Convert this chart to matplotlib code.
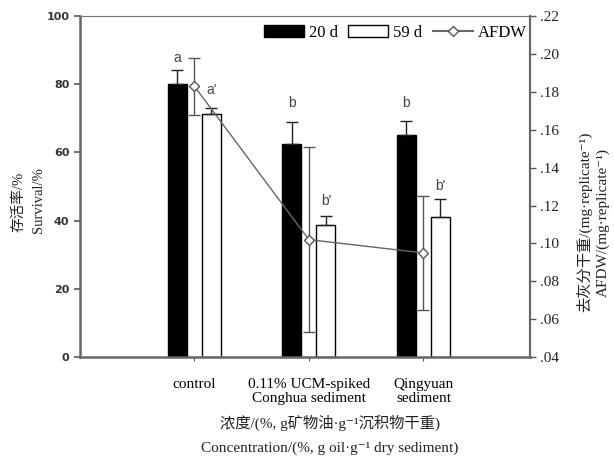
import matplotlib
matplotlib.use("Agg")
import matplotlib.pyplot as plt
import numpy as np
from matplotlib.ticker import FuncFormatter
from matplotlib.patches import Patch
from matplotlib.lines import Line2D

categories = ["control", "0.11% UCM-spiked\nConghua sediment", "Qingyuan\nsediment"]
surv_20d = [80.0, 62.5, 65.1]
surv_20d_err = [4.2, 6.5, 4.0]
surv_59d = [71.3, 38.7, 41.0]
surv_59d_err = [1.8, 2.6, 5.5]
afdw = [0.183, 0.102, 0.095]
afdw_err = [0.015, 0.049, 0.030]
letters_20d = ["a", "b", "b"]
letters_20d_y = [85.6, 72.4, 72.4]
letters_59d = ["a'", "b'", "b'"]
letters_59d_y = [76.2, 43.7, 48.1]

serif = "Liberation Serif"
cjk = "Noto Sans CJK SC"
fam = [serif, cjk, "DejaVu Sans"]

fig = plt.figure(figsize=(6.14, 4.59), dpi=100)
ax = fig.add_axes([0.130, 0.222, 0.733, 0.743])
x = np.arange(len(categories))
w = 0.165
off = 0.148

ax.bar(x - off, surv_20d, w, color="black", edgecolor="black", zorder=2)
ax.bar(x + off, surv_59d, w, color="white", edgecolor="black", linewidth=1.0, zorder=2)
ax.errorbar(x - off, surv_20d, yerr=[np.zeros(3), surv_20d_err], fmt="none",
            ecolor="#222222", elinewidth=1.0, capsize=4, capthick=1.0, zorder=3)
ax.errorbar(x + off, surv_59d, yerr=[np.zeros(3), surv_59d_err], fmt="none",
            ecolor="#222222", elinewidth=1.0, capsize=4, capthick=1.0, zorder=3)

for i in range(3):
    ax.text(x[i] - off, letters_20d_y[i], letters_20d[i], ha="center", va="bottom",
            fontsize=10, color="#444444", family="Liberation Sans")
    ax.text(x[i] + off, letters_59d_y[i], letters_59d[i], ha="center", va="bottom",
            fontsize=10, color="#444444", family="Liberation Sans")

ax.set_xlim(-1.0, 2.93)
ax.set_ylim(0, 100)
ax.set_yticks(np.arange(0, 101, 20))
ax.set_xticks(x)
ax.set_xticklabels(categories, family=serif, fontsize=11, linespacing=1.15)
ax.tick_params(axis="y", direction="out", length=4, width=1.2, color="#555555",
               labelsize=8, labelcolor="#333333")
for lab in ax.get_yticklabels():
    lab.set_fontweight("bold")
    lab.set_family("DejaVu Sans")
ax.tick_params(axis="x", direction="out", length=3, width=0.8, color="#555555", pad=12)

for s in ["left", "bottom"]:
    ax.spines[s].set_linewidth(1.8)
    ax.spines[s].set_color("#666666")
ax.spines["top"].set_linewidth(0.8)
ax.spines["top"].set_color("#777777")
ax.spines["right"].set_linewidth(1.5)
ax.spines["right"].set_color("#666666")

ax2 = ax.twinx()
ax2.set_ylim(0.04, 0.22)
ax2.set_yticks(np.arange(0.04, 0.2201, 0.02))
ax2.yaxis.set_major_formatter(FuncFormatter(lambda v, p: ("%.2f" % v)[1:]))
ax2.tick_params(axis="y", direction="out", length=4, width=1.0, color="#555555",
                labelsize=11, labelcolor="#222222")
for lab in ax2.get_yticklabels():
    lab.set_family(serif)
for s in ["left", "bottom", "top"]:
    ax2.spines[s].set_visible(False)
ax2.spines["right"].set_linewidth(1.5)
ax2.spines["right"].set_color("#666666")
ax2.errorbar(x, afdw, yerr=afdw_err, fmt="none", ecolor="#555555", elinewidth=1.0,
             capsize=4, capthick=1.0, zorder=3)
ax2.plot(x, afdw, color="#666666", linewidth=1.0, marker="D", markersize=5,
         markerfacecolor="white", markeredgecolor="#555555", markeredgewidth=1.0, zorder=4)

handles = [Patch(facecolor="black", edgecolor="black"),
           Patch(facecolor="white", edgecolor="black"),
           Line2D([0], [0], color="#666666", marker="D", markersize=5,
                  markerfacecolor="white", markeredgecolor="#555555")]
ax2.legend(handles, ["20 d", "59 d", "AFDW"], loc="upper right", ncol=3,
           frameon=False, prop={"family": serif, "size": 12},
           handlelength=2.4, handletextpad=0.3, columnspacing=0.6,
           borderaxespad=0.0, borderpad=0.2, bbox_to_anchor=(1.0, 0.985))

# y labels
fig.text(0.031, 0.56, "存活率/%", rotation=90, ha="center", va="center",
         family=fam, fontsize=10.5, color="#222222")
fig.text(0.062, 0.565, "Survival/%", rotation=90, ha="center", va="center",
         family=serif, fontsize=10.5, color="#222222")
fig.text(0.952, 0.516, "去灰分干重/(mg·replicate⁻¹)", rotation=90, ha="center",
         va="center", family=fam, fontsize=11, color="#222222")
fig.text(0.982, 0.516, "AFDW/(mg·replicate⁻¹)", rotation=90, ha="center",
         va="center", family=fam, fontsize=11, color="#222222")

# x labels
fig.text(0.537, 0.078, "浓度/(%, g矿物油·g⁻¹沉积物干重)", ha="center", va="center",
         family=fam, fontsize=11, color="#222222")
fig.text(0.537, 0.024, "Concentration/(%, g oil·g⁻¹ dry sediment)", ha="center",
         va="center", family=fam, fontsize=11, color="#222222")

fig.savefig("out.png", dpi=100, facecolor="white")
